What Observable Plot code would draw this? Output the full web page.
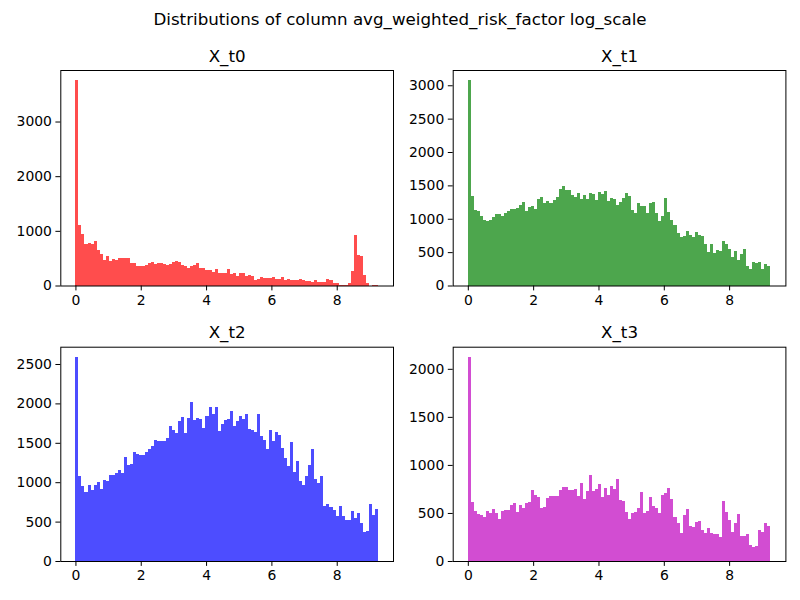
<!DOCTYPE html>
<html>
<head>
<meta charset="utf-8">
<script src="https://cdn.jsdelivr.net/npm/d3@7"></script>
<script src="https://cdn.jsdelivr.net/npm/@observablehq/plot@0.6"></script>
<style>
  html, body { margin: 0; padding: 0; background: white; }
  #fig { position: relative; width: 800px; height: 600px; background: white; font-family: "DejaVu Sans", sans-serif; }
  #suptitle { position: absolute; left: 0; top: 10px; width: 800px; text-align: center; font-size: 16.7px; line-height: 1.1; color: black; }
  .panel { position: absolute; }
</style>
</head>
<body>
<div id="fig">
  <div id="suptitle">Distributions of column avg_weighted_risk_factor log_scale</div>
</div>
<script>
// ---- data (histogram counts, 100 bins over [0, rangeMax]) ----
const binCount = 100;
const rangeMax = 9.26;
const xTicks = [0, 2, 4, 6, 8];

const titles = ["X_t0", "X_t1", "X_t2", "X_t3"];
const colors = ["#ff4d4d", "#4da64d", "#4d4dff", "#d24dd2"];

const countsT0 = [
  3755, 1104, 939, 755, 773, 761, 810, 644, 571, 460,
  534, 442, 479, 460, 497, 497, 497, 497, 405, 405,
  350, 350, 350, 368, 405, 423, 387, 405, 405, 387,
  368, 387, 423, 442, 423, 368, 350, 313, 350, 368,
  405, 313, 313, 276, 276, 239, 294, 221, 221, 221,
  294, 203, 221, 166, 221, 221, 166, 184, 166, 92,
  110, 147, 129, 129, 129, 147, 110, 110, 147, 92,
  110, 92, 92, 92, 110, 92, 74, 74, 55, 92,
  55, 55, 55, 110, 92, 37, 37, 18, 18, 18,
  37, 258, 920, 552, 534, 184, 37, 0, 18, 18
];
const countsT1 = [
  3075, 1342, 1131, 1116, 1040, 980, 965, 980, 1025, 1070,
  1070, 1040, 1085, 1116, 1146, 1146, 1161, 1206, 1251, 1116,
  1176, 1191, 1146, 1296, 1327, 1236, 1266, 1236, 1281, 1327,
  1447, 1492, 1432, 1432, 1357, 1327, 1387, 1296, 1357, 1296,
  1387, 1372, 1281, 1402, 1372, 1417, 1266, 1312, 1296, 1206,
  1251, 1312, 1387, 1342, 1131, 1085, 1236, 1191, 1191, 1085,
  1236, 1251, 1085, 965, 1040, 1312, 1101, 980, 905, 784,
  724, 739, 814, 754, 724, 799, 754, 739, 618, 497,
  618, 482, 528, 513, 663, 618, 543, 422, 513, 377,
  467, 543, 286, 241, 347, 337, 347, 241, 317, 286
];
const countsT2 = [
  2590, 1073, 947, 871, 960, 897, 960, 998, 909, 1023,
  1010, 1086, 1086, 1111, 1149, 1111, 1326, 1212, 1237, 1377,
  1364, 1351, 1351, 1377, 1427, 1465, 1541, 1528, 1528, 1528,
  1566, 1718, 1668, 1630, 1781, 1832, 1630, 1819, 2021, 1794,
  1819, 1806, 1693, 1845, 1959, 1870, 1959, 1655, 1743, 1794,
  1806, 1908, 1718, 1781, 1845, 1806, 1870, 1680, 1668, 1643,
  1870, 1592, 1541, 1427, 1668, 1528, 1643, 1605, 1440, 1313,
  1200, 1516, 1124, 1263, 1010, 960, 1073, 1212, 1415, 1036,
  985, 1073, 695, 720, 682, 644, 568, 695, 568, 518,
  518, 631, 543, 606, 480, 366, 379, 720, 581, 657
];
const countsT3 = [
  2124, 611, 518, 487, 477, 456, 518, 497, 539, 497,
  435, 518, 528, 528, 580, 601, 508, 580, 549, 601,
  611, 736, 684, 663, 549, 560, 653, 674, 674, 674,
  736, 767, 767, 736, 736, 746, 674, 808, 642, 725,
  891, 725, 746, 798, 663, 756, 684, 777, 746, 850,
  632, 622, 508, 435, 497, 508, 549, 715, 497, 518,
  663, 570, 549, 497, 684, 705, 756, 642, 456, 394,
  290, 477, 539, 363, 352, 404, 415, 321, 290, 342,
  290, 280, 280, 249, 622, 508, 425, 301, 394, 487,
  259, 259, 280, 166, 145, 155, 321, 301, 394, 363
];
const allCounts = [countsT0, countsT1, countsT2, countsT3];

const yTicksT0 = [0, 1000, 2000, 3000];
const yTicksT1 = [0, 500, 1000, 1500, 2000, 2500, 3000];
const yTicksT2 = [0, 500, 1000, 1500, 2000, 2500];
const yTicksT3 = [0, 500, 1000, 1500, 2000];
const allYTicks = [yTicksT0, yTicksT1, yTicksT2, yTicksT3];

// ---- layout ----
const layout = [
  {left: 0,   top: 40,  width: 400, height: 280, mt: 30,   mb: 34.5, ml: 60.3, mr: 7},
  {left: 400, top: 40,  width: 400, height: 280, mt: 30,   mb: 34.5, ml: 52.7, mr: 14.6},
  {left: 0,   top: 320, width: 400, height: 280, mt: 26.7, mb: 39,   ml: 60.3, mr: 7},
  {left: 400, top: 320, width: 400, height: 280, mt: 26.7, mb: 39,   ml: 52.7, mr: 14.6}
];

const binW = rangeMax / binCount;
const xPad = 0.05 * rangeMax;
const fig = document.getElementById("fig");

allCounts.forEach((counts, p) => {
  const rows = counts.map((c, i) => ({x1: i * binW, x2: (i + 1) * binW, y: c}));
  const ymax = d3.max(counts) * 1.05;
  const L = layout[p];
  const chart = Plot.plot({
    width: L.width,
    height: L.height,
    marginTop: L.mt,
    marginBottom: L.mb,
    marginLeft: L.ml,
    marginRight: L.mr,
    style: {fontFamily: "DejaVu Sans", fontSize: "13.9px", color: "black", background: "transparent", overflow: "visible"},
    x: {domain: [-xPad, rangeMax + xPad]},
    y: {domain: [0, ymax]},
    marks: [
      Plot.rectY(rows, {x1: "x1", x2: "x2", y: "y", fill: colors[p], inset: 0, shapeRendering: "crispEdges"}),
      Plot.frame({stroke: "black", strokeWidth: 1}),
      Plot.axisX({ticks: xTicks, tickSize: 4.9, tickPadding: 4, tickFormat: d3.format("d"), label: null, fontSize: 13.9}),
      Plot.axisY({ticks: allYTicks[p], tickSize: 4.9, tickPadding: 4, tickFormat: d3.format("d"), label: null, fontSize: 13.9}),
      Plot.text([titles[p]], {frameAnchor: "top", dy: -9, lineAnchor: "bottom", text: d => d, fontSize: 16.7, fill: "black"})
    ]
  });
  chart.classList.add("panel");
  chart.style.left = L.left + "px";
  chart.style.top = L.top + "px";
  fig.appendChild(chart);
});
</script>
</body>
</html>
